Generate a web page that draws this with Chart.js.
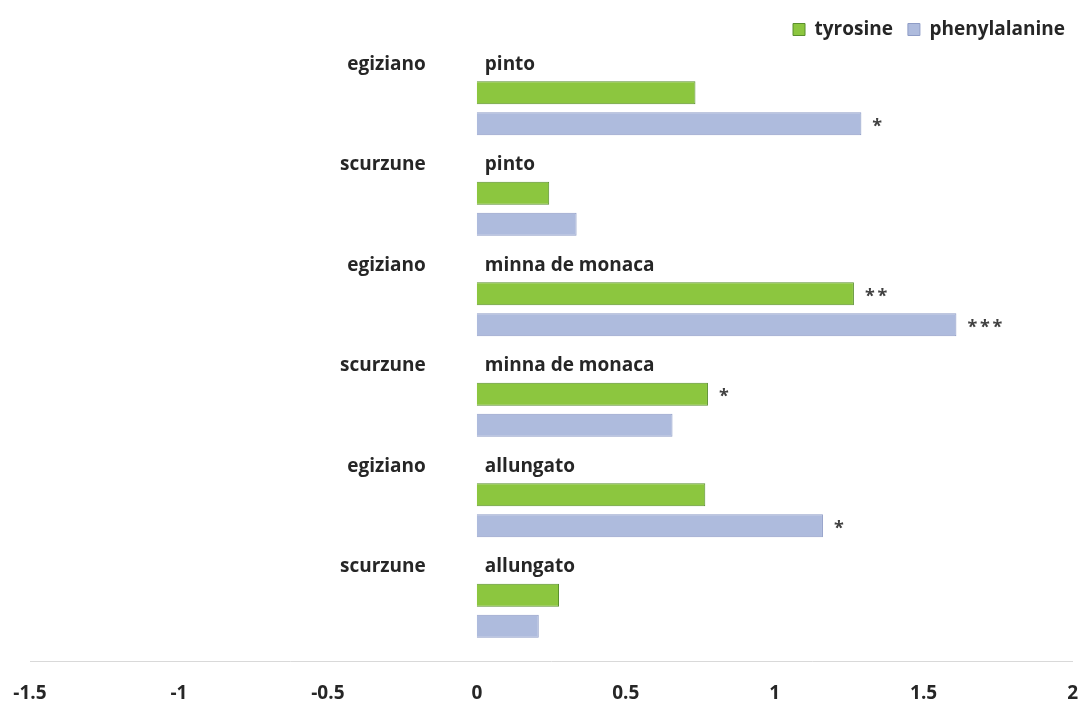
<!DOCTYPE html>
<html>
<head>
<meta charset="utf-8">
<script src="https://cdn.jsdelivr.net/npm/chart.js@4/dist/chart.umd.min.js"></script>
<style>
  html, body { margin: 0; padding: 0; background: #ffffff; }
  #wrap { width: 1080px; height: 702px; }
</style>
</head>
<body>
<div id="wrap"><canvas id="c" width="1080" height="702"></canvas></div>
<script>
// Cultivar / variety pairs, top to bottom
const cultivars = ['egiziano', 'scurzune', 'egiziano', 'scurzune', 'egiziano', 'scurzune'];
const varieties = ['pinto', 'pinto', 'minna de monaca', 'minna de monaca', 'allungato', 'allungato'];

// Values per pair
const tyrosine      = [0.734, 0.243, 1.266, 0.776, 0.767, 0.276];
const phenylalanine = [1.291, 0.335, 1.610, 0.657, 1.162, 0.208];

// Significance marks shown after each bar
const tyrosineSig      = ['', '', '**', '*', '', ''];
const phenylalanineSig = ['*', '', '***', '', '*', ''];

// Value axis ticks
const xTicks = [-1.5, -1, -0.5, 0, 0.5, 1, 1.5, 2];

const FONT = '"Open Sans", Lato, sans-serif';
const TEXT = '#262626';

// Draws the cultivar / variety headings above each pair and the significance stars
const pairLabels = {
  id: 'pairLabels',
  afterDatasetsDraw(chart) {
    const ctx = chart.ctx;
    const x0 = chart.scales.x.getPixelForValue(0);
    const tyrBars = chart.getDatasetMeta(0).data;
    const pheBars = chart.getDatasetMeta(1).data;
    ctx.save();
    ctx.fillStyle = TEXT;
    ctx.font = 'bold 19px ' + FONT;
    ctx.textBaseline = 'alphabetic';
    tyrBars.forEach((bar, i) => {
      const base = bar.y - 23;
      ctx.textAlign = 'right';
      ctx.fillText(cultivars[i], x0 - 51, base);
      ctx.textAlign = 'left';
      ctx.fillText(varieties[i], x0 + 8, base);
    });
    ctx.font = 'bold 18px ' + FONT;
    ctx.fillStyle = '#404040';
    ctx.textAlign = 'left';
    ctx.textBaseline = 'middle';
    const stars = (bars, sig) => bars.forEach((bar, i) => {
      for (let k = 0; k < sig[i].length; k++) {
        ctx.fillText('*', bar.x + 11 + k * 12.5, bar.y + 3);
      }
    });
    stars(tyrBars, tyrosineSig);
    stars(pheBars, phenylalanineSig);
    ctx.restore();
  }
};

// Fixes the legend band height so the bars start below it
const legendBand = {
  id: 'legendBand',
  beforeInit(chart) {
    const fit = chart.legend.fit;
    chart.legend.fit = function () {
      fit.call(this);
      this.height = 53;
    };
  }
};

new Chart(document.getElementById('c'), {
  type: 'bar',
  data: {
    labels: varieties.map((v, i) => cultivars[i] + ' ' + v),
    datasets: [
      {
        label: 'tyrosine',
        data: tyrosine,
        backgroundColor: '#8cc63f',
        borderColor: '#5a8f2d',
        borderWidth: 1
      },
      {
        label: 'phenylalanine',
        data: phenylalanine,
        backgroundColor: '#aebbdd',
        borderColor: '#8e9cc6',
        borderWidth: 1
      }
    ]
  },
  options: {
    indexAxis: 'y',
    responsive: false,
    animation: false,
    devicePixelRatio: 1,
    categoryPercentage: 0.617,
    barPercentage: 0.74,
    layout: { padding: { top: 5, right: 0, left: 30, bottom: 0 } },
    scales: {
      x: {
        min: -1.5,
        max: 2,
        afterBuildTicks(scale) { scale.ticks = xTicks.map(v => ({ value: v })); },
        afterFit(scale) { scale.height = 41; },
        grid: { display: false, drawTicks: true, tickLength: 19 },
        border: { display: true, color: '#d9d9d9', width: 1 },
        ticks: {
          padding: 2,
          color: TEXT,
          font: { family: FONT, size: 19, weight: 'bold' },
          callback: v => String(v)
        }
      },
      y: {
        display: false,
        grid: { display: false }
      }
    },
    plugins: {
      legend: {
        position: 'top',
        align: 'end',
        labels: {
          boxWidth: 12,
          boxHeight: 12,
          padding: 15,
          color: TEXT,
          font: { family: FONT, size: 19, weight: 'bold' }
        }
      },
      tooltip: { enabled: false }
    }
  },
  plugins: [pairLabels, legendBand]
});
</script>
</body>
</html>
